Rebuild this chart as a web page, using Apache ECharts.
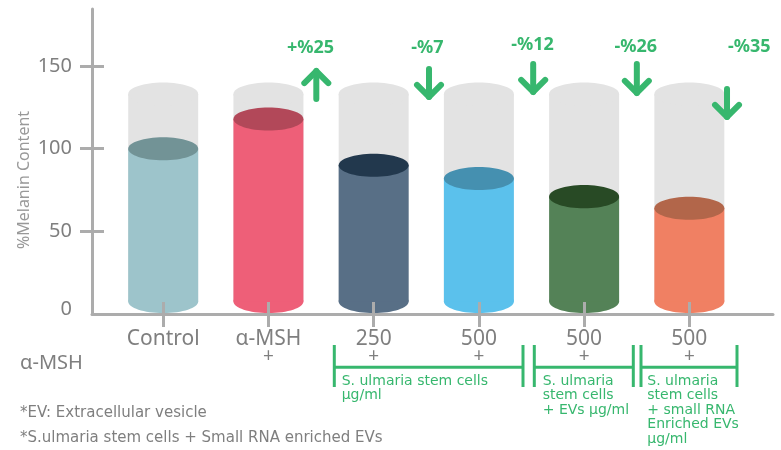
<!DOCTYPE html>
<html>
<head>
<meta charset="utf-8">
<script src="https://cdn.jsdelivr.net/npm/echarts@6/dist/echarts.min.js"></script>
<style>
html,body{margin:0;padding:0;background:#fff;}
#chart{width:781px;height:450px;}
</style>
</head>
<body>
<div id="chart"></div>
<script>
// ---- data ----
var categories = ['Control', 'α-MSH', '250', '500', '500', '500'];
var mshMarks = ['', '+', '+', '+', '+', '+'];
var melanin = [100, 118, 90, 82, 71, 64];
var capacity = [133, 133, 133, 133, 133, 133];
var yTickValues = [50, 100, 150];
var yLabelValues = [0, 50, 100, 150];
var changeLabels = ['+%25', '-%7', '-%12', '-%26', '-%35'];
var changeLabelX = [2.40, 3.51, 4.51, 5.49, 6.57];
var changeLabelY = [161, 161, 163, 161.5, 161.5];
var arrowDir = ['up', 'down', 'down', 'down', 'down'];
var arrowX = [2.455, 3.526, 4.516, 5.501, 6.358];
var arrowTop = [148.8, 150.0, 153.1, 153.1, 137.9];
var arrowBottom = [128.3, 129.5, 132.5, 131.9, 117.4];

// ---- styles ----
var bodyColors = ['#9dc4cb', '#ee5f78', '#586f86', '#5bc1ec', '#548257', '#f08063'];
var topColors = ['#729396', '#b24859', '#22384d', '#4590b0', '#284a25', '#b2664a'];
var bgColor = '#e3e3e3';
var green = '#37b76e';
var gray = '#7f7f7f';
var axisGray = '#acacac';
var FONT = '"Noto Sans", sans-serif';
var WIDE = '"DejaVu Sans", sans-serif';
var X_MIN = 0.3234, X_MAX = 6.795, Y_MAX = 184.5;

var cylData = melanin.map(function (v, i) { return [i + 1, v, capacity[i]]; });
var arrowData = arrowX.map(function (x, i) { return [x, arrowTop[i], arrowBottom[i], arrowDir[i] === 'up' ? 1 : -1]; });
var labelData = changeLabelX.map(function (x, i) { return [x, changeLabelY[i], changeLabels[i]]; });

var chart = echarts.init(document.getElementById('chart'), null, {renderer: 'canvas'});

var option = {
  animation: false,
  grid: {left: 92, right: 8, top: 9, bottom: 136},
  xAxis: [{
    type: 'value', position: 'bottom', min: X_MIN, max: X_MAX, z: 10,
    axisLine: {show: true, onZero: false, lineStyle: {color: axisGray, width: 3}},
    axisTick: {show: true, inside: false, length: 13, customValues: [1, 2, 3, 4, 5, 6], lineStyle: {color: axisGray, width: 3}},
    splitLine: {show: false},
    axisLabel: {
      show: true, customValues: [1, 2, 3, 4, 5, 6], margin: 15,
      formatter: function (v) {
        var i = Math.round(v) - 1;
        var s = '{a|' + categories[i] + '}';
        if (mshMarks[i]) s += '\n{b|' + mshMarks[i] + '}';
        return s;
      },
      rich: {
        a: {fontSize: 21, lineHeight: 20, color: gray, fontFamily: FONT},
        b: {fontSize: 19, lineHeight: 15, color: gray, fontFamily: FONT}
      }
    }
  }, {
    type: 'value', position: 'bottom', min: X_MIN, max: X_MAX, z: 10,
    axisLine: {show: false, onZero: false},
    axisTick: {show: true, inside: true, length: 12, customValues: [1, 2, 3, 4, 5, 6], lineStyle: {color: axisGray, width: 3}},
    splitLine: {show: false},
    axisLabel: {show: false}
  }],
  yAxis: [{
    type: 'value', position: 'left', min: 0, max: Y_MAX, z: 10,
    axisLine: {show: true, onZero: false, lineStyle: {color: axisGray, width: 3}},
    axisTick: {show: true, inside: false, length: 12, customValues: yTickValues, lineStyle: {color: axisGray, width: 3}},
    splitLine: {show: false},
    axisLabel: {
      show: true, customValues: yLabelValues, margin: 20,
      formatter: function (v) { return v === 0 ? '{z|0}' : '{n|' + v + '}'; },
      rich: {
        n: {fontSize: 20, color: gray, fontFamily: FONT},
        z: {fontSize: 20, color: gray, fontFamily: FONT, padding: [0, 0, 10, 0]}
      }
    }
  }, {
    type: 'value', position: 'left', min: 0, max: Y_MAX, z: 10,
    axisLine: {show: false, onZero: false},
    axisTick: {show: true, inside: true, length: 12, customValues: yTickValues, lineStyle: {color: axisGray, width: 3}},
    splitLine: {show: false},
    axisLabel: {show: false}
  }],
  series: [{
    type: 'custom',
    xAxisIndex: 0, yAxisIndex: 0,
    data: cylData,
    z: 2,
    renderItem: function (params, api) {
      var i = params.dataIndex;
      var x = api.value(0), v = api.value(1), cap = api.value(2);
      var top = api.coord([x, v]);
      var capP = api.coord([x, cap]);
      var base = api.coord([x, 0]);
      var w = api.size([0.665, 0])[0];
      var rx = w / 2, ry = rx * 0.33;
      var cx = top[0];
      var by = base[1] - ry - 1;
      return {
        type: 'group',
        children: [
          {type: 'rect', shape: {x: cx - rx, y: capP[1], width: w, height: by - capP[1]}, style: {fill: bgColor}},
          {type: 'ellipse', shape: {cx: cx, cy: capP[1], rx: rx, ry: ry}, style: {fill: bgColor}},
          {type: 'ellipse', shape: {cx: cx, cy: by, rx: rx, ry: ry}, style: {fill: bodyColors[i]}},
          {type: 'rect', shape: {x: cx - rx, y: top[1], width: w, height: by - top[1]}, style: {fill: bodyColors[i]}},
          {type: 'ellipse', shape: {cx: cx, cy: top[1], rx: rx, ry: ry}, style: {fill: topColors[i]}}
        ]
      };
    }
  }, {
    type: 'custom',
    xAxisIndex: 0, yAxisIndex: 0,
    data: arrowData,
    z: 3,
    renderItem: function (params, api) {
      var x = api.value(0);
      var p1 = api.coord([x, api.value(1)]);
      var p2 = api.coord([x, api.value(2)]);
      var dir = api.value(3);
      var y1 = p1[1] + 3, y2 = p2[1] - 3;
      var cx = p1[0];
      var tipY = dir > 0 ? y1 : y2;
      var sgn = dir > 0 ? 1 : -1;
      var head = 12;
      var st = {stroke: green, lineWidth: 6, lineCap: 'round', lineJoin: 'round', fill: null};
      return {
        type: 'group',
        children: [
          {type: 'line', shape: {x1: cx, y1: y1, x2: cx, y2: y2}, style: st},
          {type: 'polyline', shape: {points: [[cx - head, tipY + sgn * head], [cx, tipY], [cx + head, tipY + sgn * head]]}, style: st}
        ]
      };
    }
  }, {
    type: 'custom',
    xAxisIndex: 0, yAxisIndex: 0,
    data: labelData,
    z: 3,
    renderItem: function (params, api) {
      var p = api.coord([api.value(0), api.value(1)]);
      return {
        type: 'text',
        x: p[0], y: p[1],
        style: {text: changeLabels[params.dataIndex], fill: green, font: 'bold 18px ' + FONT, align: 'center', verticalAlign: 'middle'}
      };
    }
  }],
  graphic: [
    {type: 'text', x: 24, y: 180, rotation: Math.PI / 2,
      style: {text: '%Melanin Content', fill: '#999999', font: '16px ' + FONT, align: 'center', verticalAlign: 'middle'}},
    {type: 'text', x: 20, y: 363,
      style: {text: 'α-MSH', fill: gray, font: '20px ' + FONT, align: 'left', verticalAlign: 'middle'}},
    // brackets
    {type: 'line', shape: {x1: 334.3, y1: 367.3, x2: 523, y2: 367.3}, style: {stroke: green, lineWidth: 3}},
    {type: 'line', shape: {x1: 334.3, y1: 345, x2: 334.3, y2: 387}, style: {stroke: green, lineWidth: 3}},
    {type: 'line', shape: {x1: 523, y1: 345, x2: 523, y2: 387}, style: {stroke: green, lineWidth: 3}},
    {type: 'line', shape: {x1: 534.3, y1: 367.3, x2: 633.3, y2: 367.3}, style: {stroke: green, lineWidth: 3}},
    {type: 'line', shape: {x1: 534.3, y1: 345, x2: 534.3, y2: 387}, style: {stroke: green, lineWidth: 3}},
    {type: 'line', shape: {x1: 633.3, y1: 345, x2: 633.3, y2: 387}, style: {stroke: green, lineWidth: 3}},
    {type: 'line', shape: {x1: 641, y1: 367.3, x2: 737, y2: 367.3}, style: {stroke: green, lineWidth: 3}},
    {type: 'line', shape: {x1: 641, y1: 345, x2: 641, y2: 387}, style: {stroke: green, lineWidth: 3}},
    {type: 'line', shape: {x1: 737, y1: 345, x2: 737, y2: 387}, style: {stroke: green, lineWidth: 3}},
    // bracket texts
    {type: 'text', x: 341.7, y: 374,
      style: {text: 'S. ulmaria stem cells\nμg/ml', fill: green, font: '14px ' + WIDE, lineHeight: 14.5, align: 'left', verticalAlign: 'top'}},
    {type: 'text', x: 542.7, y: 374,
      style: {text: 'S. ulmaria\nstem cells\n+ EVs μg/ml', fill: green, font: '14px ' + WIDE, lineHeight: 14.5, align: 'left', verticalAlign: 'top'}},
    {type: 'text', x: 647.3, y: 374,
      style: {text: 'S. ulmaria\nstem cells\n+ small RNA\nEnriched EVs\nμg/ml', fill: green, font: '14px ' + WIDE, lineHeight: 14.5, align: 'left', verticalAlign: 'top'}},
    // footnotes
    {type: 'text', x: 20, y: 413,
      style: {text: '*EV: Extracellular vesicle', fill: gray, font: '15px ' + WIDE, align: 'left', verticalAlign: 'middle'}},
    {type: 'text', x: 20, y: 438,
      style: {text: '*S.ulmaria stem cells + Small RNA enriched EVs', fill: gray, font: '15px ' + WIDE, align: 'left', verticalAlign: 'middle'}}
  ]
};
chart.setOption(option);
</script>
</body>
</html>
